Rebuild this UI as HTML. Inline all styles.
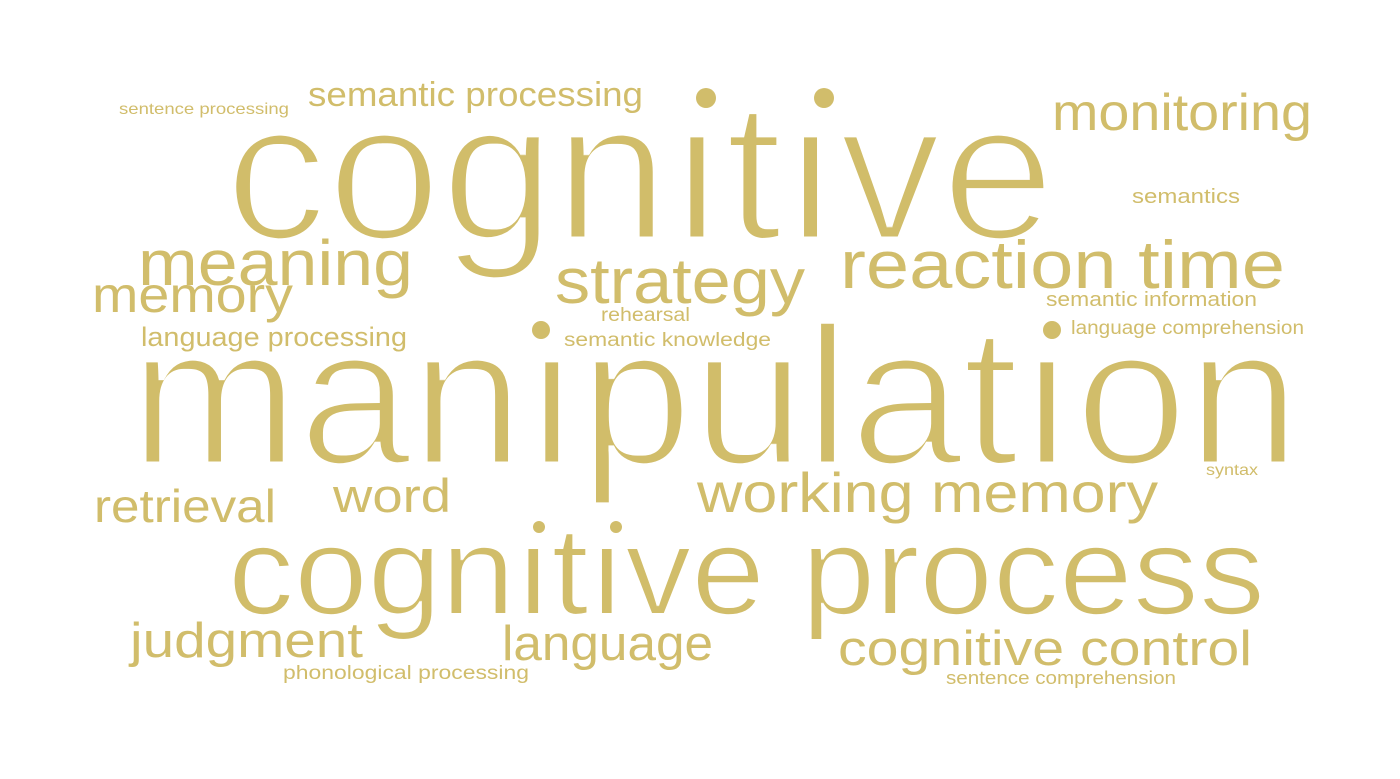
<!DOCTYPE html>
<html><head><meta charset="utf-8"><style>
html,body{margin:0;padding:0;background:#fff;}
svg{display:block}
text{font-family:"Liberation Sans",sans-serif;fill:#d1bd6b;}
</style></head><body>
<svg width="1400" height="779" viewBox="0 0 1400 779" xmlns="http://www.w3.org/2000/svg">
<defs>
<filter id="e2" x="-5%" y="-10%" width="110%" height="120%"><feMorphology operator="erode" radius="2.5"/></filter>
<filter id="e1" x="-5%" y="-10%" width="110%" height="120%"><feMorphology operator="erode" radius="1.2"/></filter>
</defs>
<g fill="#d1bd6b">
<circle cx="706" cy="98" r="10"/><circle cx="824" cy="98" r="10"/>
<circle cx="541" cy="330" r="9"/><circle cx="1052" cy="330" r="9"/>
<circle cx="539" cy="527" r="6"/><circle cx="616" cy="527" r="6"/>
</g>
<text filter="url(#e2)" x="225" y="239" font-size="197" textLength="830" lengthAdjust="spacingAndGlyphs">cognıtıve</text>
<text filter="url(#e2)" x="130" y="464" font-size="197" textLength="1170" lengthAdjust="spacingAndGlyphs">manıpulatıon</text>
<text filter="url(#e1)" x="228" y="614" font-size="125" textLength="1037" lengthAdjust="spacingAndGlyphs">cognıtıve process</text>
<text x="840" y="288" font-size="68" textLength="445" lengthAdjust="spacingAndGlyphs">reaction time</text>
<text x="697" y="512" font-size="56" textLength="461" lengthAdjust="spacingAndGlyphs">working memory</text>
<text x="555" y="303" font-size="64" textLength="250" lengthAdjust="spacingAndGlyphs">strategy</text>
<text x="138" y="285" font-size="64" textLength="275" lengthAdjust="spacingAndGlyphs">meaning</text>
<text x="92" y="312" font-size="50" textLength="201" lengthAdjust="spacingAndGlyphs">memory</text>
<text x="1052" y="130" font-size="52" textLength="260" lengthAdjust="spacingAndGlyphs">monitoring</text>
<text x="308" y="106" font-size="34" textLength="335" lengthAdjust="spacingAndGlyphs">semantic processing</text>
<text x="119" y="114" font-size="16" textLength="170" lengthAdjust="spacingAndGlyphs">sentence processing</text>
<text x="1132" y="203" font-size="20" textLength="108" lengthAdjust="spacingAndGlyphs">semantics</text>
<text x="1046" y="306" font-size="20" textLength="211" lengthAdjust="spacingAndGlyphs">semantic information</text>
<text x="1071" y="334" font-size="19" textLength="233" lengthAdjust="spacingAndGlyphs">language comprehension</text>
<text x="601" y="321" font-size="19" textLength="89" lengthAdjust="spacingAndGlyphs">rehearsal</text>
<text x="564" y="346" font-size="19" textLength="207" lengthAdjust="spacingAndGlyphs">semantic knowledge</text>
<text x="141" y="346" font-size="27" textLength="266" lengthAdjust="spacingAndGlyphs">language processing</text>
<text x="94" y="522" font-size="46" textLength="182" lengthAdjust="spacingAndGlyphs">retrieval</text>
<text x="333" y="512" font-size="47" textLength="118" lengthAdjust="spacingAndGlyphs">word</text>
<text x="1206" y="475" font-size="16" textLength="52" lengthAdjust="spacingAndGlyphs">syntax</text>
<text x="130" y="657" font-size="49" textLength="233" lengthAdjust="spacingAndGlyphs">judgment</text>
<text x="502" y="660" font-size="49" textLength="211" lengthAdjust="spacingAndGlyphs">language</text>
<text x="838" y="665" font-size="49" textLength="414" lengthAdjust="spacingAndGlyphs">cognitive control</text>
<text x="283" y="679" font-size="19" textLength="246" lengthAdjust="spacingAndGlyphs">phonological processing</text>
<text x="946" y="684" font-size="18" textLength="230" lengthAdjust="spacingAndGlyphs">sentence comprehension</text>
</svg>
</body></html>
